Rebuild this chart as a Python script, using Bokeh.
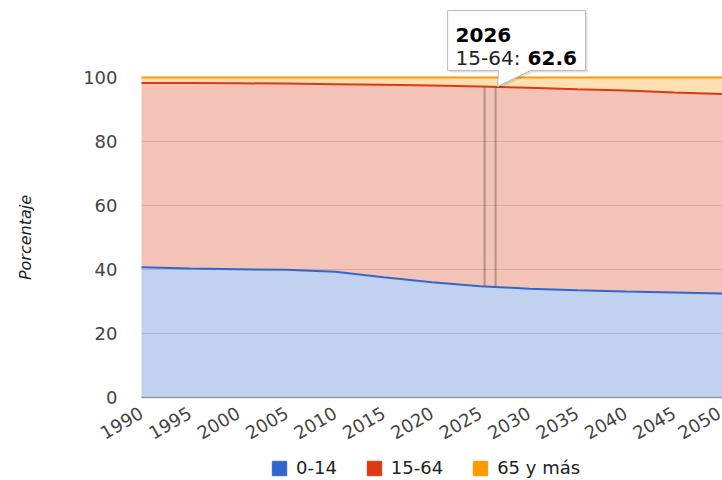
from bokeh.plotting import figure
from bokeh.models import Range1d, FixedTicker, Legend, LegendItem
from bokeh.core.properties import value
from bokeh.embed import file_html
from bokeh.resources import INLINE

# ---- data ----
years = [1990, 1995, 2000, 2005, 2010, 2015, 2020, 2025, 2030, 2035, 2040, 2045, 2050]
age_0_14 = [40.7, 40.3, 40.1, 39.9, 39.3, 37.6, 36.0, 34.8, 34.0, 33.5, 33.1, 32.8, 32.5]
age_15_64 = [57.6, 58.0, 58.1, 58.2, 58.6, 60.1, 61.5, 62.4, 62.8, 62.8, 62.8, 62.5, 62.3]
age_65_plus = [1.7, 1.7, 1.8, 1.9, 2.1, 2.3, 2.5, 2.8, 3.2, 3.7, 4.1, 4.7, 5.2]
series_names = ["0-14", "15-64", "65 y más"]
colors = ["#3366cc", "#dc3912", "#ff9900"]
x_ticks = [1990, 1995, 2000, 2005, 2010, 2015, 2020, 2025, 2030, 2035, 2040, 2045, 2050]
y_ticks = [0, 20, 40, 60, 80, 100]
y_title = "Porcentaje"
hover_year = 2026
hover_series = "15-64"
hover_value = 62.6
hover_base = 34.6   # 0-14 value at the hovered year

FONT = "DejaVu Sans"

cum1 = list(age_0_14)
cum2 = [a + b for a, b in zip(age_0_14, age_15_64)]
cum3 = [a + b + c for a, b, c in zip(age_0_14, age_15_64, age_65_plus)]

# ---- geometry (canvas pixels); the frame covers the whole canvas ----
W, H = 722, 480
PL, PR = 141, 722          # pixel columns of first / last year
ZERO_PY = 397              # pixel row of value 0
PX_PER_UNIT = 3.2
x_first, x_last = years[0], years[-1]
px_per_year = (PR - PL) / (x_last - x_first)
x_lo = x_first - PL / px_per_year
x_hi = x_last + (W - PR) / px_per_year
y_top = ZERO_PY / PX_PER_UNIT
y_bottom = -(H - ZERO_PY) / PX_PER_UNIT


def X(px):
    return x_first + (px - PL) / px_per_year


def Y(py):
    return (ZERO_PY - py) / PX_PER_UNIT


def PX(x):
    return PL + (x - x_first) * px_per_year


def PY(y):
    return ZERO_PY - y * PX_PER_UNIT


p = figure(width=W, height=H, x_range=Range1d(x_lo, x_hi), y_range=Range1d(y_bottom, y_top),
           output_backend="svg", toolbar_location=None,
           min_border_left=0, min_border_right=0, min_border_top=0, min_border_bottom=0)
p.outline_line_color = None
p.background_fill_color = "white"
p.border_fill_color = "white"

# stacked areas
p.varea(x=years, y1=[0] * len(years), y2=cum1, fill_color=colors[0], fill_alpha=0.3)
p.varea(x=years, y1=cum1, y2=cum2, fill_color=colors[1], fill_alpha=0.3)
p.varea(x=years, y1=cum2, y2=cum3, fill_color=colors[2], fill_alpha=0.3)

# crosshair / focus lines at hovered year
d = 5.5 / px_per_year
top_hover = hover_base + hover_value
p.segment(x0=[hover_year - d, hover_year + d], x1=[hover_year - d, hover_year + d],
          y0=[hover_base, hover_base], y1=[top_hover, top_hover],
          line_color="#333333", line_alpha=0.35, line_width=2)

p.line(years, cum1, line_color=colors[0], line_width=2)
p.line(years, cum2, line_color=colors[1], line_width=2)
p.line(years, cum3, line_color=colors[2], line_width=2)

# ---- tooltip ----
tip_x = PX(hover_year) + 7.5
tip_y = PY(top_hover)
bl, br, bt, bb = tip_x - 50, tip_x + 88, 10, 70
poly_px = [(bl, bt), (br, bt), (br, bb), (tip_x + 33, bb), (tip_x, tip_y), (tip_x + 1, bb), (bl, bb)]
p.patch([X(a + 2) for a, b in poly_px], [Y(b + 2) for a, b in poly_px],
        fill_color="#000000", fill_alpha=0.12, line_color=None)
p.patch([X(a) for a, b in poly_px], [Y(b) for a, b in poly_px],
        fill_color="white", line_color="#bbbbbb", line_width=1)
p.text(x=[X(bl + 8)], y=[Y(34)], text=[str(hover_year)], text_font=value(FONT),
       text_font_size="20px", text_font_style="bold", text_color="#000000",
       text_baseline="alphabetic", text_align="left")
lab = hover_series + ": "
p.text(x=[X(bl + 8)], y=[Y(57)], text=[lab], text_font=value(FONT),
       text_font_size="20px", text_color="#222222",
       text_baseline="alphabetic", text_align="left")
p.text(x=[X(bl + 8 + 72)], y=[Y(57)], text=[f"{hover_value}"], text_font=value(FONT),
       text_font_size="20px", text_font_style="bold", text_color="#000000",
       text_baseline="alphabetic", text_align="left")

# ---- axes (drawn inside the frame at fixed locations) ----
p.xaxis.ticker = FixedTicker(ticks=x_ticks)
p.yaxis.ticker = FixedTicker(ticks=y_ticks)
p.xgrid.grid_line_color = None
p.ygrid.grid_line_color = "#d8d8d8"
p.ygrid.grid_line_width = 1
p.ygrid.bounds = (y_ticks[0], y_ticks[-1])
p.ygrid.cross_bounds = (x_first, x_last)

for ax in (p.xaxis[0], p.yaxis[0]):
    ax.major_tick_line_color = None
    ax.minor_tick_line_color = None
    ax.major_label_text_font = FONT
    ax.major_label_text_font_size = "18px"
    ax.major_label_text_color = "#444444"

p.yaxis.fixed_location = x_first
p.yaxis.bounds = (y_ticks[0], y_ticks[-1])
p.yaxis.axis_line_color = None
p.yaxis.major_label_standoff = 18
p.yaxis.axis_label = y_title
p.yaxis.axis_label_text_font = FONT
p.yaxis.axis_label_text_font_style = "italic"
p.yaxis.axis_label_text_font_size = "16px"
p.yaxis.axis_label_text_color = "#222222"
p.yaxis.axis_label_standoff = 45

p.xaxis.fixed_location = 0
p.xaxis.bounds = (x_first, x_last)
p.xaxis.axis_line_color = "#999999"
p.xaxis.axis_line_width = 1.5
p.xaxis.major_label_orientation = 0.5236
p.xaxis.major_label_standoff = 8

# ---- legend ----
nan = float("nan")
items = []
for name, c in zip(series_names, colors):
    r = p.quad(left=[nan], right=[nan], top=[nan], bottom=[nan], fill_color=c, line_color=c)
    items.append(LegendItem(label=name, renderers=[r]))
legend = Legend(items=items, orientation="horizontal", location=(270, 2),
                label_text_font=FONT, label_text_font_size="18px", label_text_color="#222222",
                glyph_width=18, glyph_height=18, label_standoff=8, spacing=28,
                border_line_color=None, background_fill_alpha=0, padding=0, margin=0)
p.add_layout(legend)

open("out.html", "w").write(file_html(p, INLINE))
